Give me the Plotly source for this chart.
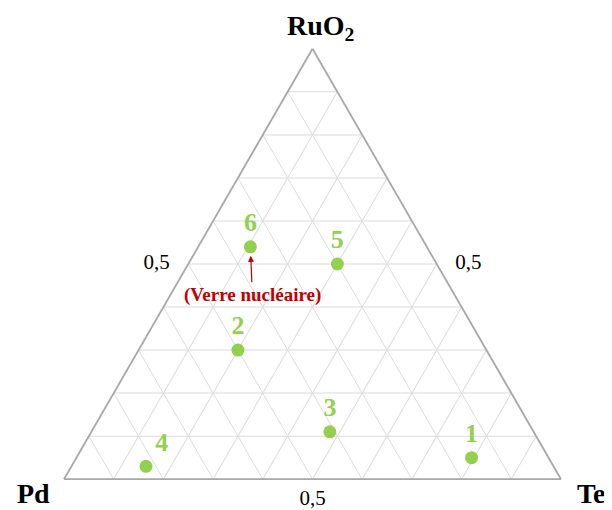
import plotly.graph_objects as go

# Data: ternary compositions (fractions)
labels = ["1", "2", "3", "4", "5", "6"]
ruo2 = [0.05, 0.30, 0.11, 0.03, 0.50, 0.54]
pd_ = [0.155, 0.50, 0.41, 0.82, 0.20, 0.355]
te = [0.795, 0.20, 0.48, 0.15, 0.30, 0.105]
label_pos = ["top center", "top center", "top center", "top right", "top center", "top center"]

tick_vals = [0.1, 0.2, 0.3, 0.4, 0.5, 0.6, 0.7, 0.8, 0.9]
NB = "\u00a0"
a_tick_text = ["", "", "", "", "0,5" + NB * 3, "", "", "", ""]
b_tick_text = ["", "", "", "", "0,5", "", "", "", ""]
c_tick_text = ["", "", "", "", NB * 3 + "0,5", "", "", "", ""]

note_text = "(Verre nucléaire)"
note_index = 5

GREEN = "#92D050"
SERIF = "Liberation Serif, Times New Roman, serif"

W, H = 612, 510
ML, MR, MT, MB = 56, 59, 32, 30

fig = go.Figure()
fig.add_trace(go.Scatterternary(
    a=ruo2, b=pd_, c=te,
    mode="markers+text",
    text=labels,
    textposition=label_pos,
    textfont=dict(family=SERIF, size=26, color=GREEN, weight="bold"),
    marker=dict(size=13, color=GREEN),
    cliponaxis=False,
    hoverinfo="skip",
))

axis_common = dict(
    tickvals=tick_vals,
    showgrid=True, gridcolor="#dcdcdc", gridwidth=1.2,
    linecolor="#a8a8a8", linewidth=1.8,
    ticks="",
    tickfont=dict(family=SERIF, size=21, color="black"),
    min=0,
)
title_font = dict(family=SERIF, size=28, color="black", weight="bold")

fig.update_layout(
    width=W, height=H,
    margin=dict(l=ML, r=MR, t=MT, b=MB),
    paper_bgcolor="white",
    showlegend=False,
    ternary=dict(
        bgcolor="white",
        sum=1,
        aaxis=dict(title=dict(text=""), ticktext=a_tick_text, **axis_common),
        baxis=dict(title=dict(text=""), ticktext=b_tick_text, **axis_common),
        caxis=dict(title=dict(text=""), ticktext=c_tick_text, **axis_common),
    ),
)

# Corner titles
fig.add_annotation(xref="paper", yref="paper", x=0.5, y=1, xanchor="center", yanchor="middle",
                   xshift=8, yshift=13, text="<b>RuO<sub>2</sub></b>", showarrow=False, font=title_font)
fig.add_annotation(xref="paper", yref="paper", x=0, y=0, xanchor="right", yanchor="middle",
                   xshift=-12, yshift=-5, text="<b>Pd</b>", showarrow=False, font=title_font)
fig.add_annotation(xref="paper", yref="paper", x=1, y=0, xanchor="left", yanchor="middle",
                   xshift=14, yshift=-5, text="<b>Te</b>", showarrow=False, font=title_font)

# Annotation arrow pointing to point 6, positioned from its ternary values
pw, ph = W - ML - MR, H - MT - MB
tri_w = min(pw, ph * 2 / 3 ** 0.5)
tri_h = tri_w * 3 ** 0.5 / 2
a0, c0 = ruo2[note_index], te[note_index]
xp = ((pw - tri_w) / 2 + (c0 + a0 / 2) * tri_w) / pw
yp = ((ph - tri_h) / 2 + a0 * tri_h) / ph
fig.add_annotation(
    xref="paper", yref="paper", x=xp, y=yp,
    text="<b>" + note_text + "</b>",
    font=dict(family=SERIF, size=19, color="#C00000"),
    showarrow=True, ax=2, ay=48, axref="pixel", ayref="pixel",
    arrowcolor="#C00000", arrowwidth=1.2, arrowhead=2, arrowsize=1, standoff=9,
)

fig.write_html("out.html")
